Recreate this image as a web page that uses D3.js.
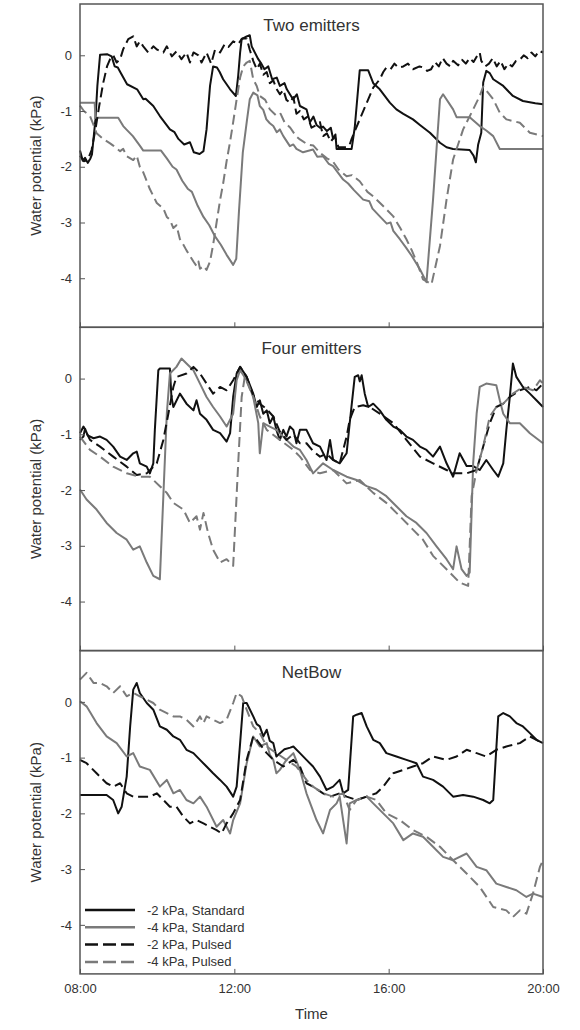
<!DOCTYPE html>
<html>
<head>
<meta charset="utf-8">
<script src="https://cdn.jsdelivr.net/npm/d3@7"></script>
<style>
  body { margin: 0; background: #fff; }
  svg { display: block; }
  text { font-family: "Liberation Sans", Arial, sans-serif; fill: #333; }
</style>
</head>
<body>
<div id="chart"></div>
<script>
// labels
const panelTitles = ["Two emitters", "Four emitters", "NetBow"];
const seriesNames = ["-2 kPa, Standard", "-4 kPa, Standard", "-2 kPa, Pulsed", "-4 kPa, Pulsed"];
const timeTicks = [8, 12, 16, 20];
const timeLabels = ["08:00", "12:00", "16:00", "20:00"];
const yTicks = [0, -1, -2, -3, -4];

// [hour, kPa]
const twoStd2 = [[8.00,-1.71],[8.07,-1.89],[8.13,-1.84],[8.20,-1.93],[8.27,-1.85],[8.31,-1.78],[8.40,-1.15],[8.45,-0.55],[8.52,0.01],[8.70,0.02],[8.82,-0.02],[8.90,-0.20],[8.98,-0.22],[9.05,-0.31],[9.22,-0.52],[9.48,-0.61],[9.64,-0.79],[9.70,-0.78],[9.90,-0.91],[10.07,-1.09],[10.33,-1.33],[10.45,-1.38],[10.55,-1.50],[10.70,-1.60],[10.85,-1.56],[10.95,-1.74],[11.10,-1.77],[11.20,-1.72],[11.28,-1.33],[11.37,-0.55],[11.45,-0.20],[11.55,-0.22],[11.62,-0.30],[11.71,-0.43],[11.89,-0.61],[12.04,-0.73],[12.10,-0.37],[12.15,0.05],[12.19,0.29],[12.32,0.34],[12.40,0.36],[12.45,0.16],[12.62,-0.07],[12.70,-0.15],[12.78,-0.25],[12.88,-0.20],[12.98,-0.43],[13.10,-0.40],[13.18,-0.55],[13.30,-0.50],[13.36,-0.61],[13.52,-0.79],[13.62,-0.70],[13.70,-0.91],[13.87,-0.97],[13.96,-1.20],[14.05,-1.10],[14.13,-1.25],[14.22,-1.30],[14.30,-1.28],[14.40,-1.36],[14.50,-1.30],[14.56,-1.50],[14.62,-1.42],[14.65,-1.68],[15.04,-1.68],[15.12,-1.30],[15.25,-0.27],[15.47,-0.27],[15.60,-0.50],[15.77,-0.61],[16.03,-0.85],[16.20,-0.97],[16.38,-1.05],[16.63,-1.15],[16.81,-1.25],[17.07,-1.39],[17.33,-1.57],[17.50,-1.65],[17.67,-1.68],[18.10,-1.70],[18.20,-1.80],[18.26,-1.92],[18.32,-1.60],[18.40,-1.39],[18.45,-0.49],[18.53,-0.28],[18.62,-0.32],[18.71,-0.43],[18.97,-0.55],[19.22,-0.73],[19.48,-0.82],[19.80,-0.86],[20.00,-0.88]];
const twoStd4 = [[8.00,-0.85],[8.38,-0.85],[8.40,-1.12],[8.99,-1.12],[9.12,-1.27],[9.20,-1.33],[9.37,-1.45],[9.55,-1.62],[9.64,-1.71],[10.10,-1.71],[10.25,-1.85],[10.40,-2.00],[10.50,-2.05],[10.65,-2.25],[10.80,-2.40],[10.90,-2.45],[11.05,-2.70],[11.20,-2.90],[11.35,-3.05],[11.50,-3.25],[11.65,-3.40],[11.80,-3.58],[11.97,-3.76],[12.05,-3.65],[12.12,-2.80],[12.22,-1.74],[12.33,-1.15],[12.40,-0.79],[12.49,-0.67],[12.60,-0.72],[12.66,-0.91],[12.75,-0.98],[12.83,-1.15],[12.92,-1.22],[13.01,-1.27],[13.10,-1.38],[13.18,-1.33],[13.27,-1.45],[13.44,-1.63],[13.53,-1.60],[13.61,-1.68],[13.78,-1.74],[14.04,-1.69],[14.15,-1.82],[14.30,-1.81],[14.45,-1.95],[14.56,-1.99],[14.70,-2.12],[14.82,-2.23],[14.95,-2.30],[15.10,-2.42],[15.34,-2.59],[15.50,-2.62],[15.58,-2.75],[15.77,-2.89],[15.95,-3.02],[16.05,-3.00],[16.12,-3.15],[16.29,-3.30],[16.45,-3.45],[16.60,-3.60],[16.81,-3.84],[16.98,-4.07],[17.15,-2.59],[17.33,-0.79],[17.41,-0.70],[17.67,-0.97],[17.76,-1.11],[18.10,-1.11],[18.36,-1.27],[18.53,-1.35],[18.71,-1.45],[18.88,-1.68],[20.00,-1.68]];
const twoPul2 = [[8.00,-1.80],[8.10,-1.90],[8.20,-1.88],[8.30,-1.70],[8.40,-1.33],[8.50,-0.90],[8.60,-0.50],[8.70,-0.20],[8.78,-0.07],[8.86,0.00],[8.95,-0.13],[9.04,-0.07],[9.12,0.11],[9.25,0.29],[9.38,0.34],[9.47,0.16],[9.55,0.25],[9.64,0.16],[9.77,0.05],[9.90,0.16],[10.00,0.10],[10.16,0.05],[10.25,0.16],[10.38,-0.02],[10.50,0.07],[10.63,-0.07],[10.76,0.05],[10.85,-0.13],[10.94,0.05],[11.07,0.00],[11.15,-0.13],[11.28,0.05],[11.40,-0.15],[11.50,0.10],[11.63,0.05],[11.75,0.20],[11.85,0.15],[11.97,0.25],[12.10,0.20],[12.20,0.30],[12.32,0.30],[12.40,0.10],[12.49,-0.10],[12.58,-0.25],[12.66,-0.15],[12.75,-0.35],[12.84,-0.30],[12.92,-0.50],[13.01,-0.45],[13.09,-0.60],[13.18,-0.70],[13.27,-0.62],[13.35,-0.80],[13.44,-0.85],[13.53,-0.75],[13.61,-1.05],[13.70,-1.00],[13.80,-1.15],[13.90,-1.10],[14.00,-1.30],[14.13,-1.25],[14.22,-1.20],[14.30,-1.45],[14.40,-1.40],[14.50,-1.55],[14.60,-1.45],[14.70,-1.65],[14.90,-1.65],[14.99,-1.60],[15.04,-1.50],[15.25,-1.15],[15.47,-0.79],[15.60,-0.58],[15.77,-0.43],[15.86,-0.30],[15.94,-0.22],[16.05,-0.25],[16.15,-0.15],[16.25,-0.22],[16.38,-0.20],[16.50,-0.15],[16.63,-0.25],[16.80,-0.20],[16.90,-0.22],[17.00,-0.28],[17.10,-0.25],[17.20,-0.12],[17.30,-0.20],[17.40,-0.05],[17.50,-0.15],[17.60,-0.20],[17.67,-0.10],[17.80,-0.18],[17.90,-0.08],[18.00,-0.15],[18.10,-0.05],[18.20,-0.12],[18.30,0.00],[18.36,0.05],[18.40,-0.10],[18.50,-0.20],[18.60,-0.15],[18.70,-0.05],[18.80,-0.20],[18.90,-0.10],[19.00,-0.25],[19.10,-0.15],[19.20,-0.20],[19.30,-0.10],[19.40,-0.08],[19.50,0.00],[19.60,-0.05],[19.70,0.05],[19.80,-0.02],[19.90,0.08],[20.00,0.05]];
const twoPul4 = [[8.00,-0.90],[8.10,-1.00],[8.26,-1.09],[8.35,-1.25],[8.43,-1.40],[8.60,-1.50],[8.78,-1.58],[8.86,-1.62],[9.04,-1.72],[9.12,-1.68],[9.21,-1.81],[9.38,-1.88],[9.47,-1.80],[9.55,-2.00],[9.64,-2.10],[9.81,-2.40],[9.99,-2.65],[10.16,-2.75],[10.25,-2.90],[10.33,-2.95],[10.42,-3.10],[10.50,-3.05],[10.59,-3.30],[10.68,-3.40],[10.76,-3.50],[10.85,-3.60],[10.94,-3.70],[11.02,-3.78],[11.07,-3.70],[11.11,-3.83],[11.20,-3.78],[11.28,-3.85],[11.37,-3.70],[11.45,-3.40],[11.54,-3.00],[11.63,-2.60],[11.71,-2.30],[11.80,-1.90],[11.89,-1.55],[11.97,-1.20],[12.06,-0.79],[12.15,-0.40],[12.23,-0.20],[12.32,-0.13],[12.40,-0.10],[12.49,-0.43],[12.58,-0.55],[12.66,-0.73],[12.80,-0.80],[12.92,-0.97],[13.10,-1.09],[13.20,-1.05],[13.30,-1.20],[13.45,-1.30],[13.60,-1.45],[13.70,-1.51],[13.90,-1.60],[14.05,-1.62],[14.22,-1.75],[14.40,-1.85],[14.55,-1.90],[14.70,-2.05],[14.91,-2.17],[15.05,-2.15],[15.25,-2.26],[15.45,-2.45],[15.60,-2.53],[15.85,-2.70],[16.12,-2.89],[16.30,-3.10],[16.46,-3.30],[16.60,-3.50],[16.75,-3.75],[16.89,-4.02],[17.11,-4.11],[17.33,-3.42],[17.50,-2.59],[17.67,-1.87],[17.93,-1.33],[18.19,-0.97],[18.36,-0.73],[18.45,-0.56],[18.71,-0.79],[18.88,-1.03],[19.05,-1.15],[19.40,-1.21],[19.66,-1.39],[20.00,-1.45]];

const fourStd2 = [[8.00,-1.10],[8.09,-1.04],[8.13,-0.90],[8.20,-1.02],[8.35,-1.07],[8.52,-1.04],[8.69,-1.10],[8.86,-1.22],[9.04,-1.40],[9.21,-1.46],[9.38,-1.34],[9.47,-1.31],[9.55,-1.52],[9.73,-1.58],[9.81,-1.70],[9.90,-1.52],[9.94,-0.92],[10.03,0.15],[10.07,0.18],[10.33,0.18],[10.37,-0.33],[10.42,-0.51],[10.59,-0.27],[10.76,-0.45],[10.94,-0.57],[11.02,-0.39],[11.11,-0.63],[11.28,-0.74],[11.45,-0.92],[11.63,-0.98],[11.80,-1.13],[11.89,-0.98],[11.97,-0.33],[12.06,0.09],[12.15,0.21],[12.32,0.03],[12.49,-0.27],[12.58,-0.51],[12.66,-0.39],[12.75,-0.63],[12.84,-0.57],[12.92,-0.80],[13.01,-0.68],[13.09,-0.92],[13.18,-1.10],[13.27,-0.92],[13.35,-1.04],[13.44,-0.86],[13.53,-0.92],[13.61,-1.16],[13.70,-0.92],[13.87,-0.92],[14.04,-1.16],[14.22,-1.22],[14.39,-1.46],[14.48,-1.10],[14.56,-1.46],[14.73,-1.52],[14.91,-1.34],[14.99,-0.80],[15.12,0.03],[15.21,0.06],[15.25,-0.05],[15.30,0.06],[15.38,-0.27],[15.47,-0.51],[15.60,-0.45],[15.77,-0.57],[15.94,-0.74],[16.12,-0.86],[16.29,-0.92],[16.46,-1.04],[16.63,-1.10],[16.81,-1.22],[16.98,-1.28],[17.15,-1.40],[17.33,-1.22],[17.50,-1.52],[17.67,-1.76],[17.84,-1.34],[18.02,-1.57],[18.19,-1.57],[18.36,-1.64],[18.53,-1.46],[18.71,-1.64],[18.84,-1.76],[18.97,-1.52],[19.05,-0.92],[19.14,-0.33],[19.22,0.27],[19.31,0.03],[19.48,-0.15],[19.66,-0.27],[19.83,-0.39],[20.00,-0.51]];
const fourStd4 = [[8.00,-1.99],[8.17,-2.17],[8.43,-2.35],[8.69,-2.59],[8.95,-2.77],[9.21,-2.89],[9.38,-3.07],[9.55,-3.01],[9.73,-3.30],[9.90,-3.54],[10.07,-3.60],[10.16,-2.11],[10.25,-0.63],[10.33,0.09],[10.50,0.21],[10.63,0.36],[10.76,0.27],[10.94,0.15],[11.11,-0.09],[11.28,-0.33],[11.45,-0.51],[11.63,-0.68],[11.80,-0.86],[11.97,-0.63],[12.06,-0.03],[12.15,0.15],[12.32,-0.03],[12.49,-0.33],[12.62,-0.80],[12.66,-1.34],[12.75,-0.80],[12.92,-0.86],[13.09,-0.92],[13.35,-1.10],[13.53,-1.22],[13.70,-1.28],[13.87,-1.46],[14.04,-1.70],[14.30,-1.52],[14.56,-1.64],[14.91,-1.76],[15.17,-1.82],[15.43,-1.93],[15.68,-1.99],[15.94,-2.11],[16.20,-2.29],[16.46,-2.47],[16.72,-2.59],[16.98,-2.77],[17.24,-3.01],[17.50,-3.24],[17.67,-3.42],[17.76,-3.01],[17.89,-3.42],[18.02,-3.54],[18.10,-3.48],[18.19,-1.52],[18.28,-0.63],[18.36,-0.15],[18.53,-0.09],[18.79,-0.12],[18.88,-0.39],[18.97,-0.63],[19.14,-0.80],[19.40,-0.80],[19.66,-0.98],[20.00,-1.16]];
const fourPul2 = [[8.00,-0.98],[8.09,-0.86],[8.26,-1.10],[8.52,-1.22],[8.86,-1.40],[9.21,-1.58],[9.47,-1.73],[9.73,-1.70],[9.99,-1.52],[10.16,-1.10],[10.29,-0.63],[10.42,-0.15],[10.50,0.03],[10.76,0.09],[10.94,0.21],[11.11,0.09],[11.28,-0.09],[11.45,-0.27],[11.63,-0.15],[11.80,-0.21],[11.97,-0.03],[12.15,0.21],[12.32,0.03],[12.49,-0.30],[12.66,-0.45],[12.84,-0.55],[13.01,-0.68],[13.18,-0.95],[13.35,-1.10],[13.53,-1.00],[13.70,-1.16],[13.87,-1.16],[14.04,-1.30],[14.22,-1.40],[14.39,-1.35],[14.56,-1.46],[14.73,-1.52],[14.91,-1.04],[14.99,-0.74],[15.12,-0.51],[15.34,-0.48],[15.51,-0.51],[15.77,-0.63],[16.12,-0.80],[16.46,-1.10],[16.81,-1.40],[17.15,-1.52],[17.50,-1.64],[17.67,-1.70],[18.02,-1.70],[18.28,-1.64],[18.45,-1.22],[18.62,-0.80],[18.79,-0.51],[18.97,-0.45],[19.14,-0.33],[19.40,-0.21],[19.66,-0.15],[19.83,-0.21],[20.00,-0.09]];
const fourPul4 = [[8.00,-1.04],[8.26,-1.28],[8.52,-1.40],[8.86,-1.58],[9.21,-1.70],[9.55,-1.76],[9.81,-1.76],[10.07,-1.93],[10.25,-2.05],[10.42,-2.23],[10.68,-2.35],[10.85,-2.59],[11.02,-2.47],[11.11,-2.71],[11.20,-2.41],[11.32,-2.77],[11.45,-3.07],[11.63,-3.30],[11.80,-3.24],[11.97,-3.36],[12.10,-1.52],[12.19,-0.33],[12.27,0.03],[12.49,-0.33],[12.66,-0.68],[12.84,-0.92],[13.18,-1.10],[13.53,-1.28],[13.70,-1.40],[13.96,-1.64],[14.22,-1.70],[14.56,-1.64],[14.91,-1.88],[15.25,-1.82],[15.60,-2.05],[15.94,-2.23],[16.29,-2.47],[16.63,-2.71],[16.89,-2.89],[17.15,-3.18],[17.50,-3.42],[17.84,-3.66],[18.06,-3.72],[18.15,-2.11],[18.28,-1.64],[18.45,-1.22],[18.62,-0.68],[18.79,-0.51],[18.97,-0.45],[19.22,-0.27],[19.48,-0.15],[19.74,-0.21],[19.92,-0.03],[20.00,-0.09]];

const netStd2 = [[8.00,-1.67],[8.69,-1.67],[8.86,-1.76],[8.99,-2.00],[9.08,-1.88],[9.21,-1.34],[9.30,-0.44],[9.38,0.22],[9.47,0.34],[9.55,0.16],[9.73,-0.02],[9.90,-0.14],[10.07,-0.44],[10.25,-0.50],[10.42,-0.62],[10.59,-0.68],[10.76,-0.86],[10.94,-0.92],[11.11,-1.04],[11.28,-1.16],[11.45,-1.28],[11.63,-1.40],[11.80,-1.52],[11.97,-1.70],[12.06,-1.52],[12.15,-0.74],[12.23,-0.02],[12.32,-0.02],[12.49,-0.26],[12.58,-0.40],[12.66,-0.44],[12.75,-0.62],[12.84,-0.50],[12.92,-0.70],[13.01,-0.74],[13.09,-0.98],[13.18,-0.92],[13.30,-0.85],[13.45,-0.82],[13.53,-0.80],[13.70,-0.92],[13.87,-1.04],[14.04,-1.16],[14.22,-1.34],[14.39,-1.58],[14.56,-1.52],[14.73,-1.40],[14.82,-1.64],[14.95,-1.58],[15.08,-0.26],[15.17,-0.23],[15.30,-0.20],[15.43,-0.44],[15.60,-0.68],[15.77,-0.74],[15.94,-0.92],[16.20,-0.98],[16.46,-1.04],[16.72,-1.10],[16.89,-1.34],[17.15,-1.40],[17.41,-1.52],[17.67,-1.70],[17.93,-1.67],[18.19,-1.70],[18.45,-1.76],[18.62,-1.82],[18.71,-1.76],[18.84,-0.26],[18.97,-0.20],[19.14,-0.26],[19.31,-0.38],[19.48,-0.44],[19.66,-0.56],[19.83,-0.68],[20.00,-0.74]];
const netStd4 = [[8.00,0.01],[8.17,-0.08],[8.43,-0.38],[8.69,-0.62],[8.95,-0.74],[9.21,-0.98],[9.38,-0.92],[9.55,-1.16],[9.81,-1.22],[10.07,-1.52],[10.25,-1.40],[10.42,-1.64],[10.59,-1.58],[10.76,-1.76],[10.94,-1.82],[11.11,-1.70],[11.28,-1.88],[11.54,-2.24],[11.71,-2.12],[11.89,-2.36],[11.97,-2.12],[12.15,-1.82],[12.32,-1.10],[12.49,-0.62],[12.66,-0.80],[12.84,-0.74],[12.92,-0.95],[13.01,-1.04],[13.09,-1.28],[13.18,-1.22],[13.35,-1.04],[13.53,-0.92],[13.70,-1.22],[13.87,-1.64],[14.13,-2.12],[14.30,-2.36],[14.48,-1.94],[14.65,-1.82],[14.73,-1.70],[14.91,-2.54],[14.99,-1.82],[15.17,-1.76],[15.43,-1.70],[15.60,-1.82],[15.86,-2.00],[16.12,-2.18],[16.38,-2.48],[16.63,-2.36],[16.89,-2.42],[17.15,-2.60],[17.41,-2.78],[17.67,-2.84],[18.02,-2.72],[18.28,-2.96],[18.53,-3.02],[18.79,-3.26],[19.05,-3.32],[19.31,-3.38],[19.57,-3.50],[19.74,-3.44],[20.00,-3.50]];
const netPul2 = [[8.00,-1.04],[8.17,-1.10],[8.43,-1.28],[8.69,-1.46],[8.86,-1.52],[9.04,-1.46],[9.21,-1.64],[9.38,-1.70],[9.81,-1.70],[9.99,-1.64],[10.16,-1.76],[10.33,-1.88],[10.50,-1.88],[10.68,-2.06],[10.85,-2.18],[11.02,-2.12],[11.20,-2.18],[11.37,-2.24],[11.54,-2.30],[11.67,-2.36],[11.80,-2.18],[11.97,-2.00],[12.15,-1.76],[12.32,-1.04],[12.49,-0.62],[12.58,-0.68],[12.84,-0.92],[13.01,-1.04],[13.27,-1.16],[13.53,-1.04],[13.70,-1.16],[13.87,-1.46],[14.04,-1.52],[14.30,-1.64],[14.48,-1.70],[14.73,-1.64],[14.91,-1.70],[15.17,-1.76],[15.43,-1.70],[15.68,-1.64],[15.86,-1.52],[16.12,-1.28],[16.38,-1.22],[16.63,-1.16],[16.89,-1.10],[17.15,-0.98],[17.50,-1.04],[17.76,-0.98],[18.02,-0.86],[18.28,-0.92],[18.53,-0.98],[18.79,-0.86],[19.05,-0.80],[19.40,-0.74],[19.66,-0.62],[19.83,-0.68],[20.00,-0.74]];
const netPul4 = [[8.00,0.40],[8.17,0.52],[8.35,0.34],[8.52,0.34],[8.69,0.28],[8.86,0.16],[9.04,0.28],[9.21,0.10],[9.38,0.16],[9.55,0.10],[9.73,0.04],[9.90,-0.02],[10.07,-0.14],[10.25,-0.20],[10.42,-0.26],[10.59,-0.26],[10.76,-0.32],[10.94,-0.44],[11.11,-0.26],[11.20,-0.38],[11.28,-0.26],[11.45,-0.32],[11.63,-0.38],[11.80,-0.32],[11.97,-0.02],[12.06,0.16],[12.19,0.10],[12.32,-0.14],[12.49,-0.44],[12.66,-0.56],[12.84,-0.80],[13.09,-0.92],[13.35,-1.04],[13.61,-1.16],[13.87,-1.40],[14.04,-1.52],[14.30,-1.64],[14.56,-1.70],[14.82,-1.64],[14.99,-1.94],[15.17,-1.76],[15.43,-1.70],[15.68,-1.76],[15.94,-2.00],[16.29,-2.12],[16.63,-2.30],[16.98,-2.42],[17.33,-2.60],[17.67,-2.84],[18.02,-3.08],[18.36,-3.32],[18.71,-3.68],[19.05,-3.74],[19.22,-3.86],[19.40,-3.74],[19.57,-3.80],[19.74,-3.44],[19.92,-2.96],[20.00,-2.84]];

const panelSeries = [
  [twoStd2, twoStd4, twoPul2, twoPul4],
  [fourStd2, fourStd4, fourPul2, fourPul4],
  [netStd2, netStd4, netPul2, netPul4]
];

const seriesColor = ["#111", "#7a7a7a", "#111", "#7a7a7a"];
const seriesDash = [null, null, "10,5", "10,5"];

const W = 580, H = 1030;
const left = 80, right = 543;
const panelTop = 4, panelH = 323.3;

const svg = d3.select("#chart").append("svg")
  .attr("width", W)
  .attr("height", H);

const x = d3.scaleLinear().domain([8, 20]).range([left, right]);

panelSeries.forEach((series, p) => {
  let top = panelTop + p * panelH;
  let y = d3.scaleLinear().domain([-4.88, 0.92]).range([top + panelH, top]);
  let g = svg.append("g");

  let line = d3.line()
    .x(d => x(d[0]))
    .y(d => y(d[1]));

  series.forEach((data, i) => {
    g.append("path")
      .datum(data)
      .attr("d", line)
      .attr("fill", "none")
      .attr("stroke", seriesColor[i])
      .attr("stroke-width", 2)
      .attr("stroke-linejoin", "round")
      .attr("stroke-dasharray", seriesDash[i]);
  });

  // y axis, inward ticks
  let yAxis = g.append("g")
    .attr("transform", `translate(${left},0)`)
    .call(d3.axisLeft(y).tickValues(yTicks).tickSize(-5).tickPadding(8).tickFormat(d => String(d)));
  yAxis.select(".domain").remove();
  yAxis.selectAll("line").attr("stroke", "#555");
  yAxis.selectAll("text").style("font-size", "13px").attr("fill", "#333");

  // x axis
  let last = p === panelSeries.length - 1;
  let xAxis = g.append("g")
    .attr("transform", `translate(0,${top + panelH})`)
    .call(d3.axisBottom(x).tickValues(timeTicks).tickSize(-5).tickPadding(10)
      .tickFormat((d, i) => last ? timeLabels[i] : ""));
  xAxis.select(".domain").remove();
  xAxis.selectAll("line").attr("stroke", "#555");
  xAxis.selectAll("text").style("font-size", "13px").attr("fill", "#333");

  g.append("rect")
    .attr("x", left)
    .attr("y", top)
    .attr("width", right - left)
    .attr("height", panelH)
    .attr("fill", "none")
    .attr("stroke", "#555")
    .attr("stroke-width", 1.5);

  g.append("text")
    .attr("x", (left + right) / 2)
    .attr("y", top + 27)
    .attr("text-anchor", "middle")
    .style("font-size", "17px")
    .attr("fill", "#222")
    .text(panelTitles[p]);

  g.append("text")
    .attr("transform", `translate(41,${top + panelH / 2}) rotate(-90)`)
    .attr("text-anchor", "middle")
    .style("font-size", "15px")
    .text("Water potential (kPa)");
});

// legend in the bottom panel
const legend = svg.append("g");
seriesNames.forEach((name, i) => {
  let ly = 910 + i * 17.3;
  legend.append("line")
    .attr("x1", 85).attr("x2", 135)
    .attr("y1", ly).attr("y2", ly)
    .attr("stroke", seriesColor[i])
    .attr("stroke-width", 2.5)
    .attr("stroke-dasharray", seriesDash[i] ? "13,5" : null);
  legend.append("text")
    .attr("x", 147)
    .attr("y", ly + 4.5)
    .style("font-size", "13px")
    .text(name);
});

svg.append("text")
  .attr("x", (left + right) / 2)
  .attr("y", 1019)
  .attr("text-anchor", "middle")
  .style("font-size", "15px")
  .text("Time");
</script>
</body>
</html>
